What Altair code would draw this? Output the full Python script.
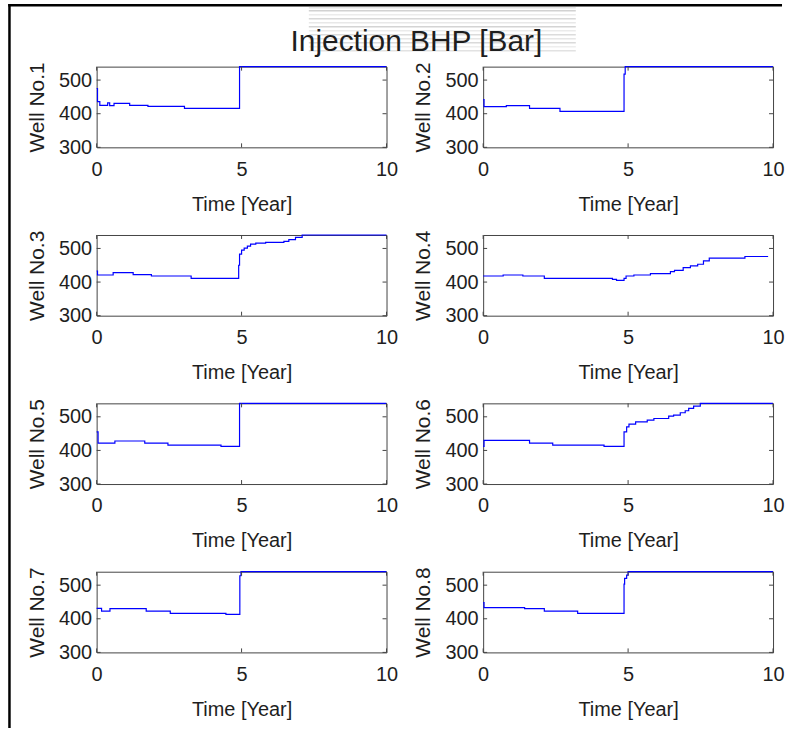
import altair as alt
import pandas as pd

# Injection bottom-hole pressure per well: step breakpoints (time in years, BHP in bar)
T1 = [0, 0.03, 0.11, 0.38, 0.45, 0.6, 1.14, 1.77, 3.03, 4.93, 10]
V1 = [475, 436, 425, 432, 424, 431, 425, 422, 416, 540, 540]

T2 = [0, 0.03, 0.8, 1.6, 2.65, 4.86, 4.9, 10]
V2 = [442, 421, 424, 416, 407, 518, 540, 540]

T3 = [0, 0.03, 0.57, 1.26, 1.89, 3.26, 4.9, 4.93, 5.0, 5.09, 5.2, 5.31, 5.49,
      5.83, 6.46, 6.63, 6.86, 7.09, 10]
V3 = [433, 421, 428, 422, 418, 411, 450, 483, 495, 501, 507, 513, 516,
      518, 521, 526, 533, 540, 540]

T4 = [0, 0.69, 1.37, 2.11, 4.46, 4.6, 4.86, 4.93, 5.2, 5.77, 6.46, 6.6, 6.9,
      7.15, 7.4, 7.6, 7.8, 9.03, 9.83]
V4 = [418, 421, 418, 411, 408, 405, 411, 418, 421, 425, 431, 435, 443,
      448, 453, 463, 471, 476, 476]

T5 = [0, 0.05, 0.63, 1.66, 2.46, 4.29, 4.93, 10]
V5 = [455, 422, 428, 422, 416, 412, 540, 540]

T6 = [0, 0.03, 1.6, 2.4, 4.17, 4.86, 4.95, 5.03, 5.26, 5.66, 5.89, 6.4, 6.57,
      6.8, 6.97, 7.09, 7.26, 7.49, 10]
V6 = [412, 430, 422, 416, 412, 455, 470, 478, 485, 490, 495, 502, 505,
      512, 518, 525, 532, 540, 540]

T7 = [0, 0.17, 0.46, 1.71, 2.54, 4.46, 4.94, 4.98, 10]
V7 = [431, 423, 430, 423, 416, 413, 528, 540, 540]

T8 = [0, 0.03, 1.43, 2.11, 3.26, 4.86, 4.88, 4.95, 5.0, 10]
V8 = [448, 433, 430, 423, 416, 503, 520, 530, 540, 540]

WELLS = [(T1, V1), (T2, V2), (T3, V3), (T4, V4),
         (T5, V5), (T6, V6), (T7, V7), (T8, V8)]

FIG_TITLE = "Injection BHP [Bar]"
X_TITLE = "Time [Year]"
X_TICKS = [0, 5, 10]
Y_TICKS = [300, 400, 500]
X_DOMAIN = [0, 10]
Y_DOMAIN = [300, 540]

W, H = 291, 81
FONT = "Liberation Sans"
BOX = "#444444"
INK = "#1e1e1e"


def well_panel(n, t, v, with_frame=False):
    x_enc = alt.X("t:Q", scale=alt.Scale(domain=X_DOMAIN, nice=False, zero=False),
                  axis=alt.Axis(values=X_TICKS, title=X_TITLE, format="d"))
    y_enc = alt.Y("bhp:Q", scale=alt.Scale(domain=Y_DOMAIN, nice=False, zero=False),
                  axis=alt.Axis(values=Y_TICKS, title=f"Well No.{n}", format="d"))

    line = alt.Chart(pd.DataFrame({"t": t, "bhp": v})).mark_line(
        interpolate="step-after", color="#0000ff", strokeWidth=1.2
    ).encode(x=x_enc, y=y_enc)

    # inward tick marks on all four sides of the box
    xt = pd.DataFrame({"t": X_TICKS})
    yt = pd.DataFrame({"bhp": Y_TICKS})
    tick_style = dict(color=BOX, strokeWidth=1)
    bottom = alt.Chart(xt).mark_rule(**tick_style).encode(
        x=x_enc, y=alt.value(H), y2=alt.value(H - 4))
    top = alt.Chart(xt).mark_rule(**tick_style).encode(
        x=x_enc, y=alt.value(0), y2=alt.value(4))
    left = alt.Chart(yt).mark_rule(**tick_style).encode(
        y=y_enc, x=alt.value(0), x2=alt.value(4))
    right = alt.Chart(yt).mark_rule(**tick_style).encode(
        y=y_enc, x=alt.value(W - 4), x2=alt.value(W))

    layers = []
    if with_frame:
        one = pd.DataFrame({"k": [0]})
        # faint banding behind the figure title
        bands = [(-59, "#e6e6e6"), (-56, "#d2d2d2"), (-52, "#ececec"), (-48, "#d8d8d8"),
                 (-44, "#e8e8e8"), (-40, "#d4d4d4"), (-36, "#ebebeb"), (-32, "#dcdcdc"),
                 (-28, "#e6e6e6"), (-24, "#dadada"), (-20, "#eeeeee"), (-16, "#e2e2e2")]
        for yy, col in bands:
            layers.append(alt.Chart(one).mark_rule(color=col, strokeWidth=1.5).encode(
                x=alt.value(213), x2=alt.value(481), y=alt.value(yy)))
        # figure title, centred over both columns
        layers.append(alt.Chart(one).mark_text(
            text=FIG_TITLE, font=FONT, fontSize=30, color=INK,
            align="center", baseline="alphabetic"
        ).encode(x=alt.value(321), y=alt.value(-16)))
        # outer figure border (left and top), drawn as thin filled bars
        layers.append(alt.Chart(one).mark_rect(color="black").encode(
            x=alt.value(-88.75), x2=alt.value(-86.25),
            y=alt.value(-62.95), y2=alt.value(664)))
        layers.append(alt.Chart(one).mark_rect(color="black").encode(
            x=alt.value(-88.75), x2=alt.value(688),
            y=alt.value(-62.95), y2=alt.value(-60.45)))

    layers += [line, bottom, top, left, right]
    return alt.layer(*layers).properties(width=W, height=H)


panels = [well_panel(i + 1, t, v, with_frame=(i == 0)) for i, (t, v) in enumerate(WELLS)]

chart = alt.concat(
    *panels, columns=2, spacing={"row": 88, "column": 97}, bounds="flush"
).properties(
    padding={"left": 7, "top": 1.5, "right": 0, "bottom": 0},
    background="white",
).configure_view(
    stroke=BOX, strokeWidth=1
).configure_axis(
    domain=False, ticks=False, grid=False, labelFlush=False,
    labelFont=FONT, labelFontSize=20, labelColor=INK,
    titleFont=FONT, titleFontWeight="normal", titleColor=INK,
).configure_axisX(
    labelPadding=12, titlePadding=15, titleFontSize=20
).configure_axisY(
    labelPadding=5, titlePadding=11, titleFontSize=21
)

chart.save("out.html", embed_options={"renderer": "svg", "actions": False})
